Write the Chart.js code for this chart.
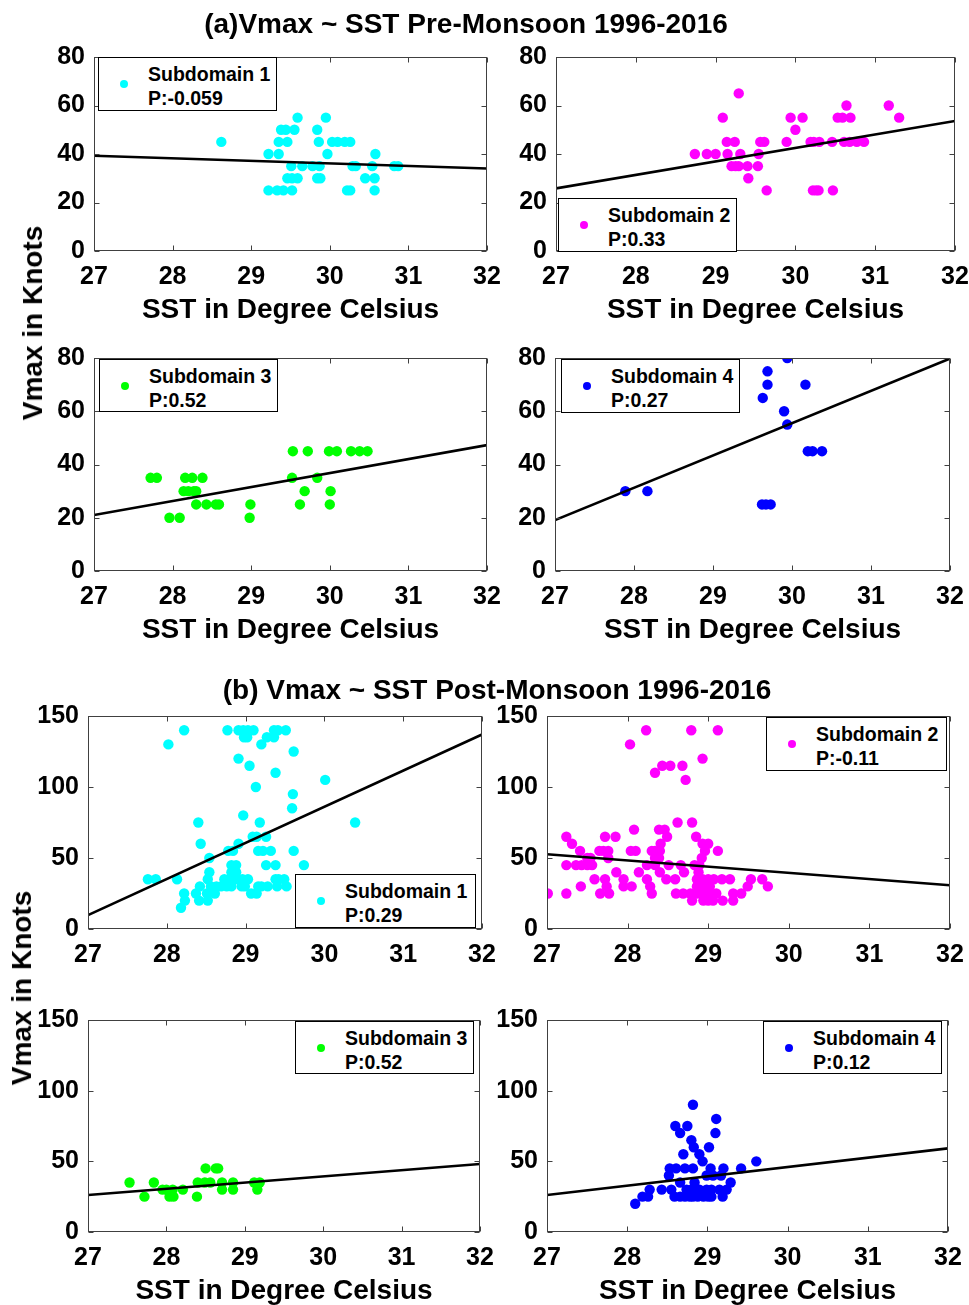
<!DOCTYPE html>
<html><head><meta charset="utf-8">
<script src="https://cdn.jsdelivr.net/npm/chart.js@4.4.0/dist/chart.umd.min.js"></script>
<style>
html,body{margin:0;padding:0;background:#fff;overflow:hidden;}
body{width:969px;height:1305px;position:relative;font-family:'Liberation Sans',Arial,sans-serif;font-weight:bold;color:#000;}
canvas{position:absolute;}
.title{position:absolute;font-size:28px;line-height:32px;text-align:center;white-space:nowrap;width:800px;}
.ylab{position:absolute;font-size:28px;line-height:32px;white-space:nowrap;transform:translate(-50%,-50%) rotate(-90deg);}
.leg{position:absolute;border:1px solid #000;background:#fff;box-sizing:border-box;}
.leg .dot{position:absolute;width:8px;height:8px;border-radius:50%;}
.leg .t{position:absolute;font-size:19.5px;line-height:22px;white-space:nowrap;}
</style></head><body>
<script>
// ---------- tick labels ----------
const sstTicks = [27, 28, 29, 30, 31, 32];
const preVmaxTicks = [0, 20, 40, 60, 80];
const postVmaxTicks = [0, 50, 100, 150];

// ---------- texts ----------
const preTitle = '(a)Vmax ~ SST Pre-Monsoon 1996-2016';
const postTitle = '(b) Vmax ~ SST Post-Monsoon 1996-2016';
const xTitle = 'SST in Degree Celsius';
const yTitle = 'Vmax in Knots';
const subdomainNames = ['Subdomain 1', 'Subdomain 2', 'Subdomain 3', 'Subdomain 4'];
const preCorr = ['P:-0.059', 'P:0.33', 'P:0.52', 'P:0.27'];
const postCorr = ['P:0.29', 'P:-0.11', 'P:0.52', 'P:0.12'];
const subdomainColors = ['#00FFFF', '#FF00FF', '#00FF00', '#0000FF'];

// ---------- regression line end points (x = 27 and 32) ----------
const fitX = [27, 32];
const preFit1 = [39.3, 34.0];
const preFit2 = [25.8, 53.6];
const preFit3 = [21.0, 47.3];
const preFit4 = [19.1, 79.8];
const postFit1 = [9.8, 137.0];
const postFit2 = [52.6, 30.8];
const postFit3 = [26.2, 48.1];
const postFit4 = [26.2, 59.2];

// ---------- Pre-monsoon data ----------
const preS1X = [28.62, 29.22, 29.35, 29.38, 29.44, 29.35, 29.46, 29.59, 29.55, 29.51, 29.65, 29.78, 29.87, 29.46, 29.52, 29.59, 29.84, 29.88, 29.22, 29.33, 29.41, 29.52, 29.84, 29.86, 29.95, 29.97, 30.03, 30.10, 30.19, 30.26, 30.29, 30.33, 30.22, 30.26, 30.54, 30.58, 30.45, 30.57, 30.57, 30.82, 30.87];
const preS1Y = [45, 40, 40, 50, 50, 45, 45, 55, 50, 35, 35, 35, 35, 30, 30, 30, 30, 30, 25, 25, 25, 25, 50, 45, 55, 40, 45, 45, 45, 45, 35, 35, 25, 25, 35, 40, 30, 30, 25, 35, 35];

const preS2X = [29.29, 29.09, 29.14, 29.24, 28.74, 28.89, 29.00, 29.15, 29.31, 29.20, 29.25, 29.29, 29.40, 29.53, 29.41, 29.54, 29.56, 29.61, 29.64, 29.89, 29.94, 30.00, 30.09, 30.19, 30.23, 30.30, 30.22, 30.26, 30.29, 30.46, 30.47, 30.53, 30.59, 30.69, 30.64, 30.61, 30.68, 30.77, 30.86, 31.17, 31.30];
const preS2Y = [65, 55, 45, 45, 40, 40, 40, 40, 40, 35, 35, 35, 35, 35, 30, 40, 45, 45, 25, 45, 55, 50, 55, 45, 45, 45, 25, 25, 25, 45, 25, 55, 55, 55, 60, 45, 45, 45, 45, 60, 55];

const preS3X = [27.72, 27.80, 27.96, 28.09, 28.16, 28.25, 28.38, 28.14, 28.20, 28.27, 28.30, 28.30, 28.43, 28.55, 28.59, 28.98, 28.99, 29.53, 29.52, 29.72, 29.84, 29.68, 29.62, 29.99, 30.09, 30.01, 30.00, 30.27, 30.38, 30.48];
const preS3Y = [35, 35, 20, 20, 35, 35, 35, 30, 30, 30, 30, 25, 25, 25, 25, 20, 25, 45, 35, 45, 35, 30, 25, 45, 45, 30, 25, 45, 45, 45];

const preS4X = [27.89, 28.17, 29.63, 29.69, 29.69, 29.94, 29.90, 29.94, 30.17, 29.62, 29.67, 29.73, 30.20, 30.26, 30.38];
const preS4Y = [30, 30, 65, 75, 70, 80, 60, 55, 70, 25, 25, 25, 45, 45, 45];

// ---------- Post-monsoon data ----------
const postS1X = [28.22, 28.77, 28.91, 28.97, 29.03, 29.10, 29.36, 29.41, 29.51,
  28.98, 29.02, 29.27, 29.36, 28.02, 29.20, 29.61, 28.91, 29.05, 29.38, 30.01, 29.13, 29.60, 29.59, 28.97,
  28.40, 29.18, 30.39, 29.09, 29.14, 29.26, 28.43, 28.91,
  28.78, 28.84, 29.16, 29.22, 29.32, 29.61, 28.54,
  28.82, 28.88, 29.26, 29.38, 29.74, 28.54, 28.82, 28.88,
  27.76, 27.86, 28.13, 28.52, 28.73, 28.80, 28.85, 28.90, 28.96, 29.03, 29.38, 29.42, 29.49,
  28.42, 28.56, 28.63, 28.69, 28.76, 28.82, 28.95, 28.99, 29.16, 29.20, 29.28, 29.40, 29.52,
  28.22, 28.37, 28.51, 28.61, 29.07, 29.14, 28.23, 28.41, 28.52, 28.18];
const postS1Y = [140, 140, 140, 140, 140, 140, 140, 140, 140,
  135, 135, 135, 135, 130, 130, 125, 120, 115, 110, 105, 100, 95, 85, 80,
  75, 75, 75, 65, 65, 65, 60, 60,
  55, 55, 55, 55, 55, 55, 50,
  45, 45, 45, 45, 45, 40, 40, 40,
  35, 35, 35, 35, 35, 35, 35, 35, 35, 35, 35, 35, 35,
  30, 30, 30, 30, 30, 30, 30, 30, 30, 30, 30, 30, 30,
  25, 25, 25, 25, 25, 25, 20, 20, 20, 15];

const postS2X = [28.23, 28.79, 29.12, 28.03, 28.93, 28.43, 28.53, 28.68, 28.34, 28.72,
  28.62, 28.80, 28.08, 28.39, 28.46,
  27.24, 27.72, 27.85, 28.49, 28.85,
  27.31, 28.41, 28.93, 29.00,
  27.41, 27.65, 27.70, 27.76, 28.04, 28.10, 28.30, 28.34, 28.40, 28.96, 29.12,
  27.50, 27.54, 27.76, 28.34, 28.39, 28.92,
  27.24, 27.36, 27.43, 27.50, 27.56, 28.24, 28.34, 28.51, 28.66, 28.83, 28.89,
  27.86, 28.14, 28.40, 28.70, 28.88,
  27.59, 27.72, 27.95, 28.24, 28.48, 28.59, 28.86, 28.93, 29.00, 29.07, 29.17, 29.27, 29.53, 29.67,
  27.42, 27.74, 27.95, 28.05, 28.28, 28.86, 28.94, 29.02, 29.49, 29.74,
  27.01, 27.24, 27.66, 27.77, 28.30, 28.60, 28.69, 28.78, 28.86, 28.95, 29.02, 29.10, 29.31, 29.41,
  28.80, 28.94, 29.00, 29.06, 29.18, 29.31];
const postS2Y = [140, 140, 140, 130, 120, 115, 115, 115, 110, 105,
  75, 75, 70, 70, 70,
  65, 65, 65, 65, 65,
  60, 60, 60, 60,
  55, 55, 55, 55, 55, 55, 55, 55, 55, 55, 55,
  50, 50, 50, 50, 50, 50,
  45, 45, 45, 45, 45, 45, 45, 45, 45, 45, 45,
  40, 40, 40, 40, 40,
  35, 35, 35, 35, 35, 35, 35, 35, 35, 35, 35, 35, 35, 35,
  30, 30, 30, 30, 30, 30, 30, 30, 30, 30,
  25, 25, 25, 25, 25, 25, 25, 25, 25, 25, 25, 25, 25, 25,
  20, 20, 20, 20, 20, 20];

const postS3X = [27.53, 27.84, 27.72, 27.95, 28.00, 28.08, 28.04, 28.09, 28.21, 28.39, 28.40, 28.49, 28.56, 28.50, 28.63, 28.66, 28.71, 28.85, 28.71, 28.85, 29.12, 29.19, 29.16];
const postS3Y = [35, 35, 25, 30, 30, 30, 25, 25, 30, 25, 35, 35, 35, 45, 45, 45, 35, 35, 30, 30, 35, 35, 30];

const postS4X = [28.10, 28.19, 28.26, 28.28, 28.43, 28.53, 28.61, 28.72, 28.82, 28.52, 28.55, 28.59, 28.66, 28.72, 28.78, 28.82, 28.88, 28.95, 29.01, 29.05, 28.66, 28.74, 28.80, 28.84, 28.90, 28.84, 28.70, 28.80, 28.83, 28.90, 28.94, 28.60, 28.75, 28.66, 28.82, 29.11, 29.10, 29.02, 29.04, 28.99, 29.07, 29.17, 28.99, 29.05, 29.20, 29.15, 29.24, 29.19, 29.29, 29.42, 29.61];
const postS4Y = [20, 25, 25, 30, 30, 45, 45, 45, 45, 40, 30, 25, 25, 25, 25, 25, 25, 25, 25, 25, 35, 30, 30, 30, 30, 35, 55, 65, 60, 55, 50, 75, 75, 70, 90, 80, 70, 60, 45, 40, 40, 40, 30, 30, 45, 30, 30, 25, 35, 45, 50];

// ---------- layout ----------
const FONT = "'Liberation Sans', Arial, Helvetica, sans-serif";

const framePlugin = {
  id: 'frame',
  afterDatasetsDraw(chart) {
    const {ctx, chartArea: a, scales: {x, y}} = chart;
    ctx.save();
    ctx.strokeStyle = '#404040';
    ctx.lineWidth = 1;
    const l = Math.round(a.left) + 0.5, r = Math.round(a.right) - 0.5;
    const t = Math.round(a.top) + 0.5, b = Math.round(a.bottom) - 0.5;
    ctx.strokeRect(l, t, r - l, b - t);
    ctx.beginPath();
    x.ticks.forEach(tk => {
      const px = Math.round(x.getPixelForValue(tk.value)) + 0.5;
      ctx.moveTo(px, b); ctx.lineTo(px, b - 5);
      ctx.moveTo(px, t); ctx.lineTo(px, t + 5);
    });
    y.ticks.forEach(tk => {
      const py = Math.round(y.getPixelForValue(tk.value)) + 0.5;
      ctx.moveTo(l, py); ctx.lineTo(l + 5, py);
      ctx.moveTo(r, py); ctx.lineTo(r - 5, py);
    });
    ctx.stroke();
    ctx.restore();
  }
};

function buildChart(p, w, h, leftW, padTop, padRight, bottomSpace) {
  const c = document.createElement('canvas');
  c.width = w; c.height = h;
  c.style.width = w + 'px'; c.style.height = h + 'px';
  document.body.appendChild(c);
  const yTicks = p.yTicks;
  const chart = new Chart(c, {
    type: 'scatter',
    data: {
      datasets: [
        { data: fitX.map((x, i) => ({x, y: p.fit[i]})), showLine: true, borderColor: '#000', borderWidth: 2.6, pointRadius: 0, order: 0 },
        { data: p.xs.map((x, i) => ({x, y: p.ys[i]})), backgroundColor: p.color, borderWidth: 0, pointRadius: 5.2, order: 1 }
      ]
    },
    options: {
      responsive: false, maintainAspectRatio: false, animation: false, devicePixelRatio: 1, events: [],
      layout: { padding: { top: padTop, right: padRight, left: 0, bottom: 0 } },
      plugins: { legend: { display: false }, tooltip: { enabled: false } },
      scales: {
        x: {
          type: 'linear', position: 'bottom', min: sstTicks[0], max: sstTicks[sstTicks.length - 1],
          grid: { display: false, drawTicks: false }, border: { display: false },
          afterBuildTicks: s => { s.ticks = sstTicks.map(v => ({value: v})); },
          afterFit: s => { s.height = bottomSpace; },
          ticks: { padding: 11, color: '#000', autoSkip: false, maxRotation: 0, font: { family: FONT, size: 25, weight: 'bold' } },
          title: { display: p.showXTitle, text: xTitle, color: '#000', padding: { top: 0, bottom: 4 }, font: { family: FONT, size: 28, weight: 'bold' } }
        },
        y: {
          type: 'linear', position: 'left', min: yTicks[0], max: yTicks[yTicks.length - 1],
          grid: { display: false, drawTicks: false }, border: { display: false },
          afterBuildTicks: s => { s.ticks = yTicks.map(v => ({value: v})); },
          afterFit: s => { s.width = leftW; },
          ticks: { padding: 9, color: '#000', autoSkip: false, font: { family: FONT, size: 25, weight: 'bold' } }
        }
      }
    },
    plugins: [framePlugin]
  });
  return {c, chart};
}

function makePanel(p) {
  const padTop = 16, padRight = 26, leftW = 62;
  const bottomSpace = p.showXTitle ? 80 : 46;
  const wantW = p.R - p.L, wantH = p.B - p.T;
  let w = wantW + leftW + padRight;
  let h = wantH + padTop + bottomSpace;
  // first pass: measure where the library puts the plot area
  let r = buildChart(p, w, h, leftW, padTop, padRight, bottomSpace);
  const a = r.chart.chartArea;
  const dw = wantW - (a.right - a.left), dh = wantH - (a.bottom - a.top);
  const ox = a.left, oy = a.top;
  r.chart.destroy(); r.c.remove();
  // second pass: corrected size, positioned so plot area sits where wanted
  w += Math.round(dw); h += Math.round(dh);
  r = buildChart(p, w, h, leftW, padTop, padRight, bottomSpace);
  const a2 = r.chart.chartArea;
  r.c.style.left = (p.L - Math.round(a2.left)) + 'px';
  r.c.style.top = (p.T - Math.round(a2.top)) + 'px';
}

function makeLegend(p) {
  const d = document.createElement('div');
  d.className = 'leg';
  d.style.left = p.lx + 'px'; d.style.top = p.ly + 'px';
  d.style.width = p.lw + 'px'; d.style.height = p.lh + 'px';
  const dot = document.createElement('div');
  dot.className = 'dot';
  dot.style.background = p.color;
  dot.style.left = '21px'; dot.style.top = '22px';
  d.appendChild(dot);
  [[p.name, 5], [p.corr, 29]].forEach(([txt, top]) => {
    const t = document.createElement('div');
    t.className = 't';
    t.textContent = txt;
    t.style.left = '49px'; t.style.top = top + 'px';
    d.appendChild(t);
  });
  document.body.appendChild(d);
}

const panels = [
  { L: 94, T: 57, R: 487, B: 251, xs: preS1X, ys: preS1Y, fit: preFit1, yTicks: preVmaxTicks, color: subdomainColors[0], showXTitle: true, name: subdomainNames[0], corr: preCorr[0], lx: 98, ly: 57, lw: 179, lh: 54 },
  { L: 556, T: 57, R: 955, B: 251, xs: preS2X, ys: preS2Y, fit: preFit2, yTicks: preVmaxTicks, color: subdomainColors[1], showXTitle: true, name: subdomainNames[1], corr: preCorr[1], lx: 558, ly: 198, lw: 179, lh: 54 },
  { L: 94, T: 358, R: 487, B: 571, xs: preS3X, ys: preS3Y, fit: preFit3, yTicks: preVmaxTicks, color: subdomainColors[2], showXTitle: true, name: subdomainNames[2], corr: preCorr[2], lx: 99, ly: 359, lw: 179, lh: 53 },
  { L: 555, T: 358, R: 950, B: 571, xs: preS4X, ys: preS4Y, fit: preFit4, yTicks: preVmaxTicks, color: subdomainColors[3], showXTitle: true, name: subdomainNames[3], corr: preCorr[3], lx: 561, ly: 359, lw: 179, lh: 54 },
  { L: 88, T: 716, R: 482, B: 929, xs: postS1X, ys: postS1Y, fit: postFit1, yTicks: postVmaxTicks, color: subdomainColors[0], showXTitle: false, name: subdomainNames[0], corr: postCorr[0], lx: 295, ly: 874, lw: 181, lh: 54 },
  { L: 547, T: 716, R: 950, B: 929, xs: postS2X, ys: postS2Y, fit: postFit2, yTicks: postVmaxTicks, color: subdomainColors[1], showXTitle: false, name: subdomainNames[1], corr: postCorr[1], lx: 766, ly: 717, lw: 181, lh: 54 },
  { L: 88, T: 1020, R: 480, B: 1232, xs: postS3X, ys: postS3Y, fit: postFit3, yTicks: postVmaxTicks, color: subdomainColors[2], showXTitle: true, name: subdomainNames[2], corr: postCorr[2], lx: 295, ly: 1021, lw: 179, lh: 53 },
  { L: 547, T: 1020, R: 948, B: 1232, xs: postS4X, ys: postS4Y, fit: postFit4, yTicks: postVmaxTicks, color: subdomainColors[3], showXTitle: true, name: subdomainNames[3], corr: postCorr[3], lx: 763, ly: 1021, lw: 179, lh: 53 }
];

panels.forEach(makePanel);
panels.forEach(makeLegend);

function addText(cls, txt, cx, cy) {
  const d = document.createElement('div');
  d.className = cls;
  d.textContent = txt;
  if (cls === 'title') { d.style.left = (cx - 400) + 'px'; d.style.top = (cy - 16) + 'px'; }
  else { d.style.left = cx + 'px'; d.style.top = cy + 'px'; }
  document.body.appendChild(d);
}
addText('title', preTitle, 466, 24);
addText('title', postTitle, 497, 690);
addText('ylab', yTitle, 33, 323);
addText('ylab', yTitle, 22, 988);
</script>
</body></html>
